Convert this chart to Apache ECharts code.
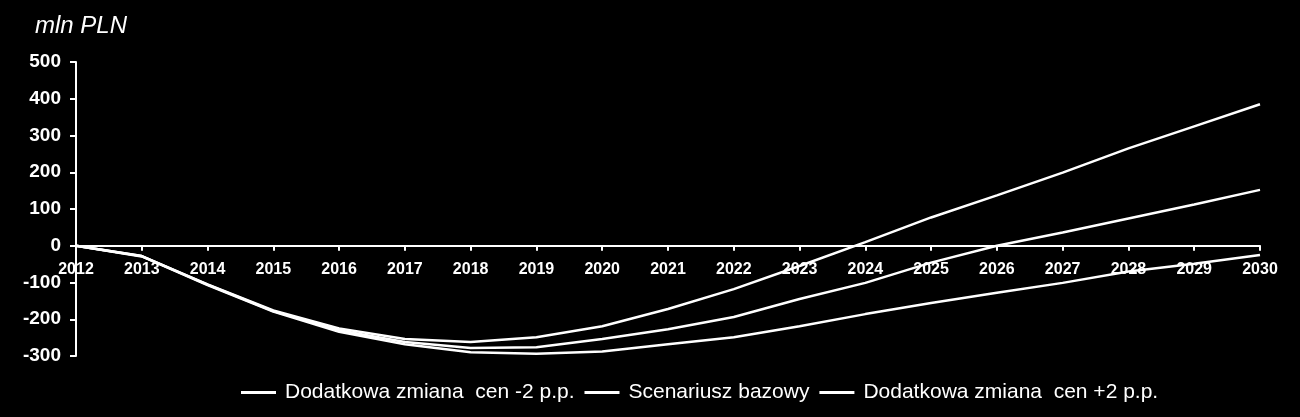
<!DOCTYPE html>
<html lang="pl">
<head>
    <meta charset="UTF-8">
    <title>mln PLN</title>
    <script src="https://cdn.jsdelivr.net/npm/echarts@6/dist/echarts.min.js"></script>
    <style>
        html, body { margin: 0; padding: 0; background: #000; }
        #box { width: 1300px; height: 417px; }
    </style>
</head>
<body>
    <div id="box"></div>
</body>
<script>
    // lata na osi X
    var years = ['2012','2013','2014','2015','2016','2017','2018','2019','2020','2021',
                 '2022','2023','2024','2025','2026','2027','2028','2029','2030'];
    var seriesNames = ['Dodatkowa zmiana  cen -2 p.p.', 'Scenariusz bazowy', 'Dodatkowa zmiana  cen +2 p.p.'];
    // wartosci (mln PLN)
    var minus2 = [0, -28, -105, -176, -225, -254, -262, -249, -219, -172, -118, -55, 10, 77, 137, 199, 265, 325, 385];
    var bazowy = [0, -28, -106, -178, -230, -262, -278, -276, -254, -227, -194, -145, -101, -46, 0, 36, 74, 112, 152];
    var plus2  = [0, -29, -107, -179, -234, -268, -290, -294, -288, -268, -249, -219, -186, -156, -128, -101, -70, -49, -25];
    var yTicks = [-300, 500, 100]; // min, max, interval

    var mEcharts = echarts.init(document.querySelector('#box'));

    function line(name, data) {
        return {
            name: name,
            type: 'line',
            data: data,
            symbol: 'none',
            lineStyle: { color: '#fff', width: 2.5 },
            itemStyle: { color: '#fff' }
        };
    }

    var option = {
        backgroundColor: '#000',
        animation: false,
        title: {
            text: 'mln PLN',
            left: 30,
            top: 9,
            textStyle: { color: '#fff', fontStyle: 'italic', fontWeight: 'normal',
                         fontSize: 24, fontFamily: 'Liberation Sans' }
        },
        grid: { left: 76, right: 40, top: 62, bottom: 61 },
        legend: {
            bottom: 9,
            left: 236,
            icon: 'rect',
            itemWidth: 35,
            itemHeight: 3,
            itemGap: 10,
            textStyle: { color: '#fff', fontSize: 21, fontFamily: 'Liberation Sans', padding: [0, 0, 0, 4] },
            data: seriesNames
        },
        xAxis: {
            type: 'category',
            data: years,
            boundaryGap: false,
            axisLine: { onZero: true, lineStyle: { color: '#fff', width: 2 } },
            axisTick: { show: true, alignWithLabel: true, length: 5, lineStyle: { color: '#fff', width: 2 } },
            // etykiety tuz pod linia zera
            axisLabel: { color: '#fff', fontWeight: 'bold', fontSize: 16,
                         fontFamily: 'Liberation Sans', margin: -94, interval: 0 }
        },
        yAxis: {
            type: 'value',
            min: yTicks[0],
            max: yTicks[1],
            interval: yTicks[2],
            splitLine: { show: false },
            axisLine: { show: true, lineStyle: { color: '#fff', width: 2 } },
            axisTick: { show: true, length: 6, lineStyle: { color: '#fff', width: 2 } },
            axisLabel: { color: '#fff', fontWeight: 'bold', fontSize: 19,
                         fontFamily: 'Liberation Sans', margin: 15 }
        },
        series: [
            line(seriesNames[0], minus2),
            line(seriesNames[1], bazowy),
            line(seriesNames[2], plus2)
        ]
    };
    mEcharts.setOption(option);
</script>
</html>
